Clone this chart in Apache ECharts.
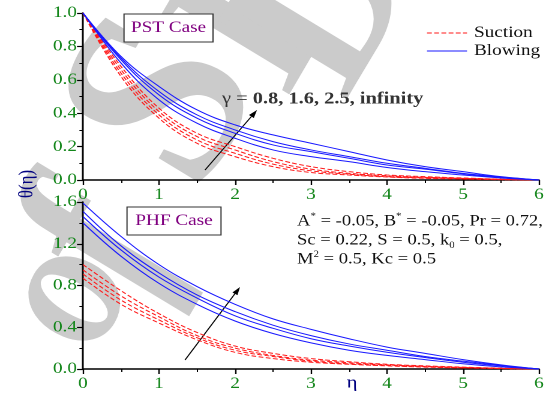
<!DOCTYPE html>
<html>
<head>
<meta charset="utf-8">
<script src="https://cdn.jsdelivr.net/npm/echarts@6/dist/echarts.min.js"></script>
<style>
    html, body { margin: 0; padding: 0; background: #fff; overflow: hidden; }
    #chart { height: 394px; transform-origin: 0 0; }
</style>
</head>
<body>
<div id="chart"></div>
<script>
    // eta values shared by every curve
    var eta = [0, 0.5, 1, 1.5, 2, 2.5, 3, 3.5, 4, 4.5, 5, 5.5, 6];
    var gammaLabels = ['0.8', '1.6', '2.5', 'infinity'];

    // PST case (top panel)
    var pstSuction = [
        [1, 0.62, 0.37, 0.22, 0.14, 0.08, 0.045, 0.03, 0.018, 0.01, 0.006, 0.002, 0],
        [1, 0.64, 0.39, 0.24, 0.16, 0.095, 0.055, 0.035, 0.02, 0.013, 0.008, 0.003, 0],
        [1, 0.66, 0.41, 0.26, 0.18, 0.11, 0.065, 0.04, 0.025, 0.016, 0.01, 0.004, 0],
        [1, 0.68, 0.43, 0.28, 0.2, 0.13, 0.08, 0.05, 0.03, 0.02, 0.012, 0.005, 0]
    ];
    var pstBlowing = [
        [1, 0.7, 0.48, 0.34, 0.25, 0.18, 0.14, 0.11, 0.075, 0.05, 0.03, 0.012, 0],
        [1, 0.72, 0.51, 0.37, 0.28, 0.21, 0.17, 0.13, 0.09, 0.065, 0.037, 0.016, 0],
        [1, 0.73, 0.53, 0.39, 0.3, 0.23, 0.18, 0.14, 0.1, 0.07, 0.04, 0.018, 0],
        [1, 0.74, 0.56, 0.42, 0.33, 0.27, 0.22, 0.17, 0.12, 0.08, 0.05, 0.02, 0]
    ];

    // PHF case (bottom panel)
    var phfSuction = [
        [0.87, 0.62, 0.44, 0.28, 0.16, 0.1, 0.065, 0.045, 0.03, 0.018, 0.01, 0.004, 0],
        [0.91, 0.66, 0.47, 0.3, 0.18, 0.12, 0.075, 0.05, 0.035, 0.022, 0.012, 0.005, 0],
        [0.95, 0.7, 0.5, 0.32, 0.2, 0.13, 0.085, 0.06, 0.04, 0.025, 0.015, 0.006, 0],
        [1, 0.75, 0.53, 0.35, 0.22, 0.15, 0.1, 0.07, 0.045, 0.03, 0.018, 0.008, 0]
    ];
    var phfBlowing = [
        [1.4, 1.08, 0.82, 0.62, 0.46, 0.34, 0.25, 0.18, 0.13, 0.09, 0.05, 0.02, 0],
        [1.46, 1.14, 0.88, 0.68, 0.51, 0.39, 0.29, 0.22, 0.16, 0.11, 0.065, 0.03, 0],
        [1.51, 1.18, 0.92, 0.71, 0.55, 0.42, 0.32, 0.24, 0.18, 0.12, 0.075, 0.035, 0],
        [1.59, 1.27, 1.0, 0.79, 0.62, 0.48, 0.38, 0.29, 0.21, 0.15, 0.09, 0.04, 0]
    ];

    // the source figure is stretched horizontally, so draw narrow and scale the page in x
    var SX = 1.2;
    function X(px) { return px / SX; }

    var serif = '"Liberation Serif", "DejaVu Serif", serif';
    var green = '#13861a';
    var navy = '#000080';
    var red = '#ff1a1a';
    var blue = '#1a1aff';

    function pairs(values) {
        return values.map(function (v, i) { return [eta[i], v]; });
    }

    function makeSeries(list, name, color, dashed, idx) {
        return list.map(function (values) {
            return {
                name: name,
                type: 'line',
                xAxisIndex: idx,
                yAxisIndex: idx,
                data: pairs(values),
                smooth: 0.4,
                symbol: 'none',
                silent: true,
                z: 3,
                lineStyle: { color: color, width: 1, type: dashed ? [4, 2] : 'solid' }
            };
        });
    }

    function xAxisCfg(idx) {
        return {
            type: 'value',
            gridIndex: idx,
            min: 0,
            max: 6,
            interval: 1,
            axisLine: { show: true, onZero: false, lineStyle: { color: '#000', width: 1.5 } },
            axisTick: { show: true, length: 5, lineStyle: { color: '#000', width: 1.2 } },
            minorTick: { show: true, splitNumber: 2, length: 3, lineStyle: { color: '#000', width: 1 } },
            splitLine: { show: false },
            axisLabel: { color: green, fontFamily: serif, fontSize: 16, margin: 7 }
        };
    }

    function yAxisCfg(idx, max, step) {
        return {
            type: 'value',
            gridIndex: idx,
            min: 0,
            max: max,
            interval: step,
            axisLine: { show: true, lineStyle: { color: '#000', width: 1.5 } },
            axisTick: { show: true, length: 5, lineStyle: { color: '#000', width: 1.2 } },
            minorTick: { show: true, splitNumber: 2, length: 3, lineStyle: { color: '#000', width: 1 } },
            splitLine: { show: false },
            axisLabel: {
                color: green, fontFamily: serif, fontSize: 16, margin: 5,
                formatter: function (v) { return v.toFixed(1); }
            }
        };
    }

    function caseBox(x, y, w, h, text) {
        return {
            type: 'group',
            x: X(x),
            y: y,
            children: [
                { type: 'rect', shape: { x: 0, y: 0, width: X(w), height: h },
                  style: { fill: '#fff', stroke: '#333', lineWidth: 1 } },
                { type: 'text', x: X(w) / 2, y: h / 2,
                  style: { text: text, fill: '#800080', font: '16px ' + serif,
                           textAlign: 'center', textVerticalAlign: 'middle' } }
            ]
        };
    }

    function legendRow(y, label, color, dashed) {
        return [
            { type: 'line', shape: { x1: X(427), y1: y, x2: X(467), y2: y },
              style: { stroke: color, lineWidth: 1, lineDash: dashed ? [4, 2] : null } },
            { type: 'text', x: X(474), y: y,
              style: { text: label, fill: '#111', font: '16px ' + serif,
                       textAlign: 'left', textVerticalAlign: 'middle' } }
        ];
    }

    function arrow(x1, y1, x2, y2) {
        var dx = X(x2) - X(x1), dy = y2 - y1;
        var len = Math.sqrt(dx * dx + dy * dy);
        var ux = dx / len, uy = dy / len;
        var bx = X(x2) - ux * 8, by = y2 - uy * 8;
        return [
            { type: 'line', shape: { x1: X(x1), y1: y1, x2: bx, y2: by },
              style: { stroke: '#000', lineWidth: 1 } },
            { type: 'polygon',
              shape: { points: [[X(x2), y2], [bx - uy * 2.5, by + ux * 2.5], [bx + uy * 2.5, by - ux * 2.5]] },
              style: { fill: '#000' } }
        ];
    }

    // grey watermark letters, each placed by its centre
    function mark(ch, x, y, size) {
        return {
            type: 'text', x: X(x), y: y, z: -10, silent: true,
            rotation: 64 * Math.PI / 180,
            style: { text: ch, fill: '#cbcbcb', font: 'italic bold ' + size + 'px ' + serif,
                     textAlign: 'center', textVerticalAlign: 'middle' }
        };
    }

    var dom = document.getElementById('chart');
    dom.style.width = X(551) + 'px';
    dom.style.transform = 'scaleX(' + SX + ')';
    var chart = echarts.init(dom, null, { devicePixelRatio: 2 });

    var option = {
        backgroundColor: '#fff',
        animation: false,
        grid: [
            { left: X(83), top: 13, width: X(456), height: 167 },
            { left: X(83), top: 202, width: X(456), height: 167 }
        ],
        xAxis: [xAxisCfg(0), xAxisCfg(1)],
        yAxis: [yAxisCfg(0, 1.0, 0.2), yAxisCfg(1, 1.6, 0.4)],
        series: []
            .concat(makeSeries(pstSuction, 'Suction', red, true, 0))
            .concat(makeSeries(pstBlowing, 'Blowing', blue, false, 0))
            .concat(makeSeries(phfSuction, 'Suction', red, true, 1))
            .concat(makeSeries(phfBlowing, 'Blowing', blue, false, 1)),
        graphic: [
            mark('o', 70, 295, 170),
            mark('f', 105, 245, 200),
            mark('S', 172, 105, 230),
            mark('I', 255, 35, 200),
            mark('D', 330, 10, 200),
            caseBox(124, 14, 89, 28, 'PST Case'),
            caseBox(127, 207, 94, 28, 'PHF Case'),
            {
                type: 'text', x: X(222), y: 99,
                style: {
                    text: '{n|γ = }{b|' + gammaLabels.join(', ') + '}',
                    textVerticalAlign: 'middle',
                    rich: {
                        n: { font: '17px ' + serif, fill: '#333' },
                        b: { font: 'bold 17px ' + serif, fill: '#333' }
                    }
                }
            },
            {
                type: 'text', x: X(297), y: 212,
                style: {
                    text: 'A{sup|*} = -0.05, B{sup|*} = -0.05, Pr = 0.72,\nSc = 0.22, S = 0.5, k{sub|0} = 0.5,\nM{sup|2} = 0.5, Kc = 0.5',
                    font: '15.5px ' + serif,
                    fill: '#111',
                    lineHeight: 19,
                    rich: {
                        sup: { font: '9px ' + serif, fill: '#111', verticalAlign: 'top', padding: [0, 0, 8, 0] },
                        sub: { font: '9px ' + serif, fill: '#111', verticalAlign: 'bottom', padding: [6, 0, 0, 0] }
                    }
                }
            },
            {
                type: 'text', x: X(27), y: 184, rotation: Math.PI / 2,
                style: { text: 'θ(η)', fill: navy, font: '17px ' + serif,
                         textAlign: 'center', textVerticalAlign: 'middle' }
            },
            {
                type: 'text', x: X(352), y: 383,
                style: { text: 'η', fill: navy, font: '17px ' + serif,
                         textAlign: 'center', textVerticalAlign: 'middle' }
            }
        ]
            .concat(legendRow(33, 'Suction', red, true))
            .concat(legendRow(51, 'Blowing', blue, false))
            .concat(arrow(205, 170, 257, 110))
            .concat(arrow(185, 360, 240, 287))
    };
    chart.setOption(option);
</script>
</body>
</html>
